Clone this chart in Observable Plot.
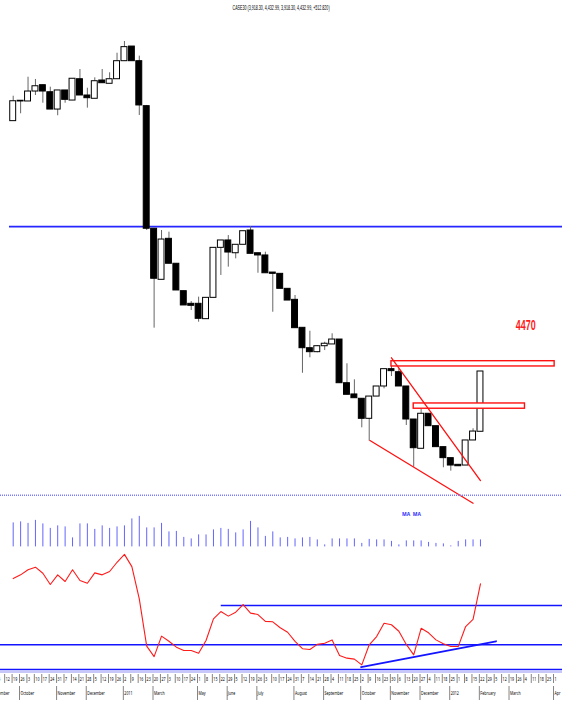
<!DOCTYPE html>
<html><head><meta charset="utf-8">
<script src="https://cdn.jsdelivr.net/npm/d3@7"></script>
<script src="https://cdn.jsdelivr.net/npm/@observablehq/plot@0.6"></script>
<style>
body{margin:0;background:#fff;}
#wrap{position:relative;width:562px;height:706px;overflow:hidden;font-family:"Liberation Sans",Arial,sans-serif;background:#fff;}
#wrap > svg{position:absolute;left:0;overflow:visible;}
#title{position:absolute;top:3px;left:0;width:562px;text-align:center;font-size:8px;line-height:9px;color:#000;}
#title span{display:inline-block;transform-origin:50% 50%;white-space:nowrap;}
</style></head><body><div id="wrap"><div id="title"><span id="tspan"></span></div></div>
<script>
const title = "CASE30 (3,918.30, 4,432.99, 3,918.30, 4,432.99, +512.820)";
// weekly candles (index 0 = first week shown)
const open  = [6571,6745,6739,6824,6878,6818,6670,6833,6747,6929, 6790,6762,6918,6890,6929,7083,7208,7083,6699,5652, 5216,5566,5353,5119,5011,5011,4880,5062,5489,5552, 5443,5515,5637,5443,5424,5278,5267,5139,5045,4806, 4632,4598,4649,4664,4706,4333,4237,4200,4029,4219, 4305,4453,4427,4305,4023,3773,4072,3966,3787,3693, 3636,3630,3844,3918.30];
const high  = [6784,6747,6946,6927,6878,6861,6833,6833,6933,7012, 6852,6941,7012,6984,7151,7251,7208,7126,6705,5652, 5637,5623,5353,5119,5030,5068,5062,5489,5552,5594, 5515,5631,5671,5443,5452,5278,5267,5139,5082,4806, 4777,4655,4683,4755,4706,4499,4362,4200,4219,4305, 4453,4476,4456,4305,4023,4114,4072,3966,3787,3693, 3636,3844,3944,4432.99];
const low   = [6571,6634,6739,6790,6724,6670,6617,6724,6747,6790, 6682,6762,6895,6890,6929,7083,7083,6619,5637,4803, 5216,5353,5125,4997,4954,4854,4880,5062,5253,5324, 5395,5515,5438,5272,5272,4939,5139,5039,4803,4418, 4550,4593,4612,4664,4333,4234,4205,3952,3838,4219, 4285,4390,4305,3972,3616,3773,3966,3787,3611,3582, 3624,3630,3844,3918.30];
const close = [6741,6739,6824,6869,6824,6670,6833,6753,6933,6790, 6767,6912,6895,6929,7083,7203,7083,6705,5652,5225, 5560,5353,5125,4997,4994,4883,5062,5489,5552,5449, 5515,5631,5438,5424,5272,5267,5139,5039,4803,4632, 4598,4649,4670,4706,4333,4234,4205,4029,4219,4305, 4453,4436,4305,4023,3778,4072,3966,3787,3693,3630, 3624,3844,3920.17,4432.99];
const volume = [48,50,47,53,46,37,42,40,18,46, 46,35,42,37,40,42,56,61,38,38, 47,30,31,19,16,24,24,34,37,35, 28,34,51,38,21,30,18,19,16,18, 19,14,4,16,16,16,16,7,15,14, 14,11,4,12,12,12,9,7,6,2, 11,14,14,14];
const rsi = [63.7,65.6,68.2,69.5,66.4,60.7,65.6,62.2,68.2,62.7, 61.3,66.6,65.6,67.3,72.0,76.0,69.8,53.4,29.3,24.0, 34.4,31.8,28.8,27.1,27.1,25.7,32.2,43.2,46.9,44.6, 46.6,50.5,46.1,45.4,41.9,41.7,38.7,36.4,31.7,28.0, 27.6,30.2,30.8,32.5,24.6,23.2,22.7,19.8,30.0,34.2, 41.0,40.2,36.9,30.2,24.9,38.4,36.1,32.5,30.5,29.1, 29.1,39.3,42.9,61.0];
// x-axis labels (week slots start at index -2)
const weekDays = [5,12,19,26,3,10,17,24,31,7,14,21,28,5,12,19,26,2,9,16,23,20,27,3,10,17,24,1,8,15,22,29,5,12,19,26,3,10,17,24,31,7,14,21,28,4,11,18,25,2,9,16,23,30,6,13,20,27,4,11,18,25,1,8,15,22,29,5,12,19,26,4,11,18,25,1];
const monthNames = ["September","October","November","December","2011","March","May","June","July","August","September","October","November","December","2012","February","March","Apr"];
const monthSlots = [-3,1,6,10,15,19,25,29,33,38,42,47,51,55,59,63,67,73];
// annotations (price / index units)
const priceLine = 5671;
const redBoxes = [{x1:51,x2:73,lo:4476,hi:4521},{x1:54,x2:69,lo:4115,hi:4160}];
const redLines = [[{i:51,p:4550},{i:63,p:3502}],[{i:48.1,p:3844},{i:62,p:3308}]];
const targetLabel = {i:69.1,p:4826,text:"4470"};
const rsiLevels = {mid:50, low:30, floor:17.4};
const rsiTrend = [{i:46.9,v:18.6},{i:65.1,v:31.8}];

const xDomain = [-1.712, 74.06];
const X = {domain:xDomain, range:[0,562], axis:null};
const candles = open.map((o,i)=>({i,o,h:high[i],l:low[i],c:close[i],up:close[i]>=o}));
const wrap = document.getElementById("wrap");
function place(svg, top){ svg.style.top = top+"px"; wrap.appendChild(svg); return svg; }

const main = Plot.plot({
  width:562, height:506, margin:0, x:X,
  y:{domain:[3280.1,7601.3], range:[506,0], axis:null},
  marks:[
    Plot.ruleY([priceLine], {x1:-0.5, x2:xDomain[1], stroke:"#2626ff", strokeWidth:1.8}),
    Plot.ruleX(candles, {x:"i", y1:"l", y2:"h", stroke:"#666", strokeWidth:1}),
    Plot.rect(candles, {x1:d=>d.i-0.4, x2:d=>d.i+0.4, y1:"o", y2:"c", fill:d=>d.up?"#fff":"#000", stroke:"#000", strokeWidth:1}),
    Plot.rect(redBoxes, {x1:"x1", x2:"x2", y1:"lo", y2:"hi", fill:"#fff", stroke:"#ff1010", strokeWidth:1.4}),
    ...redLines.map(l=>Plot.line(l, {x:"i", y:"p", stroke:"#ff1010", strokeWidth:1.3})),
    Plot.text([targetLabel], {x:"i", y:"p", text:"text", fill:"#ff1a1a", fontWeight:"bold", fontSize:14, fontFamily:"Liberation Sans, Arial, sans-serif"})
  ]
});
place(main, 0);

const vol = Plot.plot({
  width:562, height:54, margin:0, x:X,
  y:{domain:[0,104.8], range:[52.4,0], axis:null},
  marks:[
    Plot.ruleY([104.8], {stroke:"#7a7aff", strokeWidth:1.5, strokeDasharray:"1,1", dy:0.8}),
    Plot.ruleX(volume.map((v,i)=>({i,v})), {x:"i", y1:0, y2:"v", stroke:"#6464ff", strokeWidth:1}),
    Plot.text([{i:53.7,v:64.8,t:"MA  MA"}], {x:"i", y:"v", text:"t", fill:"#3030ff", fontSize:5, fontWeight:"bold"})
  ]
});
place(vol, 494);

const rsiPlot = Plot.plot({
  width:562, height:124, margin:0, x:X,
  y:{domain:[0,100], range:[155.25,-41.25], axis:null},
  marks:[
    Plot.ruleY([rsiLevels.low, rsiLevels.floor], {stroke:"#1414ff", strokeWidth:1.6}),
    Plot.ruleY([rsiLevels.mid], {x1:28.05, x2:xDomain[1], stroke:"#1414ff", strokeWidth:1.6}),
    Plot.line(rsiTrend, {x:"i", y:"v", stroke:"#1414ff", strokeWidth:1.8}),
    Plot.line(rsi, {x:(d,i)=>i, y:d=>d, stroke:"#ff1a1a", strokeWidth:1.1})
  ]
});
place(rsiPlot, 548);

const weeks = weekDays.map((d,k)=>({i:k-2, d}));
const months = monthNames.map((m,k)=>({i:monthSlots[k], m}));
const axis = Plot.plot({
  width:562, height:36, margin:0, x:X,
  y:{domain:[0,36], range:[0,36], axis:null},
  marks:[
    Plot.ruleY([1.5], {stroke:"#c8c8f8", strokeWidth:2}),
    Plot.ruleX(weeks, {x:d=>d.i-0.15, y1:4, y2:13, stroke:"#333", strokeWidth:0.6}),
    Plot.text(weeks, {x:d=>d.i-0.15, y:8.5, text:"d", textAnchor:"start", dx:1, fontSize:6, fill:"#000"}),
    Plot.ruleX(months, {x:d=>d.i-0.15, y1:16, y2:30, stroke:"#333", strokeWidth:0.6}),
    Plot.text(months, {x:d=>d.i-0.15, y:23, text:"m", textAnchor:"start", dx:1, fontSize:6, fill:"#000"})
  ]
});
place(axis, 670);

// narrow the condensed-looking labels
function squeeze(svg, s){
  svg.querySelectorAll("text").forEach(t=>{
    const bb = t.getBBox(); const x0 = bb.x;
    const prev = t.getAttribute("transform")||"";
    t.setAttribute("transform", `${prev} translate(${x0},0) scale(${s},1) translate(${-x0},0)`);
  });
}
squeeze(axis, 0.6);
main.querySelectorAll("text").forEach(t=>{
  const bb=t.getBBox(); const cx=bb.x+bb.width/2;
  const prev=t.getAttribute("transform")||"";
  t.setAttribute("transform", `${prev} translate(${cx},0) scale(${20/bb.width},1) translate(${-cx},0)`);
});
const ts = document.getElementById("tspan");
ts.textContent = title;
const w = ts.getBoundingClientRect().width;
ts.style.transform = `scaleX(${97/w})`;
</script></body></html>
